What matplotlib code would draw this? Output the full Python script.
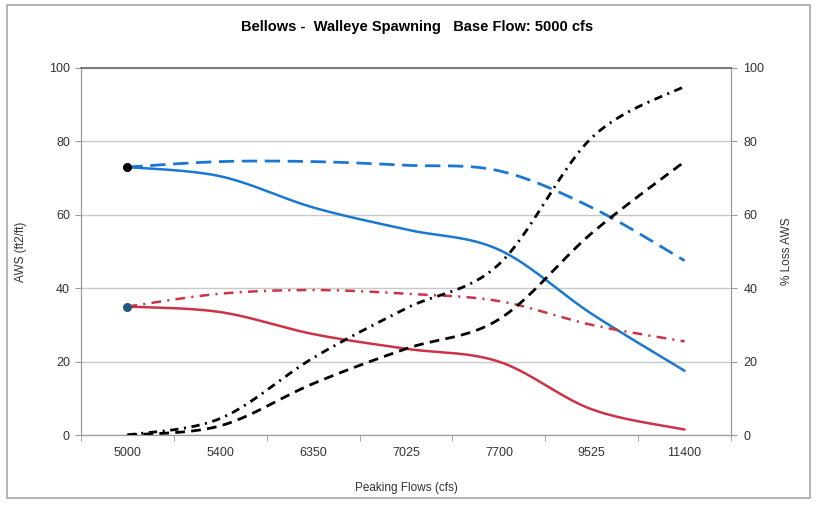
# plot.py
# Bellows - Walleye Spawning chart (AWS vs peaking flows)

import numpy as np
import matplotlib
matplotlib.use('Agg')
import matplotlib.pyplot as plt
from matplotlib.patches import Rectangle

plt.rcParams['font.family'] = ['Liberation Sans', 'DejaVu Sans']
plt.rcParams['lines.scale_dashes'] = False

# Data
flows = ['5000', '5400', '6350', '7025', '7700', '9525', '11400']
aws_peak_blue = [73, 70.5, 62, 56, 50.5, 33, 17.5]
aws_base_blue = [73, 74.5, 74.5, 73.5, 72, 62, 47.5]
aws_peak_red = [35, 33.5, 27.5, 23.5, 20, 7, 1.5]
aws_base_red = [35, 38.5, 39.5, 38.5, 36.5, 30, 25.5]
loss_dashdot = [0, 4.5, 21, 34.5, 46.5, 81, 95]
loss_dashed = [0, 2.5, 14, 23.5, 31.5, 55, 74.5]
marker_black = [73]
marker_teal = [35]

# Smooth Line
def smooth(values, n = 30):
    # Catmull-Rom style smoothing, like Excel's "smoothed line".
    y = np.asarray(values, dtype = float)
    x = np.arange(len(y), dtype = float)
    px = np.concatenate([[x[0]], x, [x[-1]]])
    py = np.concatenate([[y[0]], y, [y[-1]]])
    xs, ys = [], []
    for i in range(1, len(px) - 2):
        t = np.linspace(0, 1, n, endpoint = (i == len(px) - 3))
        p0x, p1x, p2x, p3x = px[i - 1], px[i], px[i + 1], px[i + 2]
        p0y, p1y, p2y, p3y = py[i - 1], py[i], py[i + 1], py[i + 2]
        # Bezier control points
        c1x, c1y = p1x + (p2x - p0x) / 6, p1y + (p2y - p0y) / 6
        c2x, c2y = p2x - (p3x - p1x) / 6, p2y - (p3y - p1y) / 6
        b0 = (1 - t) ** 3
        b1 = 3 * (1 - t) ** 2 * t
        b2 = 3 * (1 - t) * t ** 2
        b3 = t ** 3
        xs.append(b0 * p1x + b1 * c1x + b2 * c2x + b3 * p2x)
        ys.append(b0 * p1y + b1 * c1y + b2 * c2y + b3 * p2y)
    return np.concatenate(xs), np.concatenate(ys)

fig = plt.figure(figsize = (8.18, 5.05), dpi = 100)

# Chart border
fig.patches.append(Rectangle((7 / 818, 7 / 505), 803 / 818, 493 / 505, transform = fig.transFigure,
                             fill = False, edgecolor = '#a8a8a8', linewidth = 1.2))

ax = fig.add_axes([81 / 818, 70 / 505, 650 / 818, 367 / 505])
ax2 = ax.twinx()

blue = '#1a78d2'
red = '#cc3346'

# Left axis series
x, y = smooth(aws_peak_blue)
ax.plot(x, y, color = blue, linewidth = 1.8, solid_capstyle = 'round')
x, y = smooth(aws_base_blue)
ax.plot(x, y, color = blue, linewidth = 2.0, dashes = (11, 5.5))
x, y = smooth(aws_peak_red)
ax.plot(x, y, color = red, linewidth = 1.8, solid_capstyle = 'round')
x, y = smooth(aws_base_red)
ax.plot(x, y, color = red, linewidth = 1.8, dashes = (7, 4.5, 1.5, 4.5))

# Start markers
ax.plot([0], marker_black, 'o', color = 'black', markersize = 5.5, zorder = 5)
ax.plot([0], marker_teal, 'o', color = '#1f5a80', markersize = 5.5, zorder = 5)

# Right axis series
x, y = smooth(loss_dashdot)
ax2.plot(x, y, color = 'black', linewidth = 2.0, dashes = (6, 4, 1.5, 4))
x, y = smooth(loss_dashed)
ax2.plot(x, y, color = 'black', linewidth = 2.0, dashes = (7, 4.5))

# Axes limits and ticks
for a in (ax, ax2):
    a.set_xlim(-0.5, len(flows) - 0.5)
    a.set_ylim(0, 100)
    a.set_yticks(np.arange(0, 101, 20))
    for s in a.spines.values():
        s.set_color('#9a9a9a')
    a.spines['top'].set_color('#7a7a7a')
    a.spines['top'].set_linewidth(1.3)

ax.set_xticks(np.arange(len(flows)))
ax.set_xticklabels(flows)
ax.set_xticks(np.arange(len(flows) + 1) - 0.5, minor = True)
ax.tick_params(axis = 'x', which = 'major', length = 0, pad = 9, labelsize = 9, colors = '#333333')
ax.tick_params(axis = 'x', which = 'minor', length = 4, color = '#9a9a9a')
ax.tick_params(axis = 'y', length = 4, color = '#9a9a9a', labelsize = 9, labelcolor = '#333333', pad = 4)
ax2.tick_params(axis = 'y', length = 4, color = '#9a9a9a', labelsize = 9, labelcolor = '#333333', pad = 5)

# Grid
ax.grid(axis = 'y', color = '#c8c8c8', linewidth = 1.0)
ax.set_axisbelow(True)

# Titles & Labels
fig.text(0.51, 0.947, 'Bellows -  Walleye Spawning   Base Flow: 5000 cfs', ha = 'center', va = 'center',
         fontsize = 10.5, fontweight = 'bold')
ax.set_xlabel('Peaking Flows (cfs)', fontsize = 8.5, color = '#333333', labelpad = 16)
ax.set_ylabel('AWS (ft2/ft)', fontsize = 8.5, color = '#333333', labelpad = 16)
ax2.set_ylabel('% Loss AWS', fontsize = 8.5, color = '#333333', labelpad = 12)

fig.savefig('out.png', dpi = 100)
